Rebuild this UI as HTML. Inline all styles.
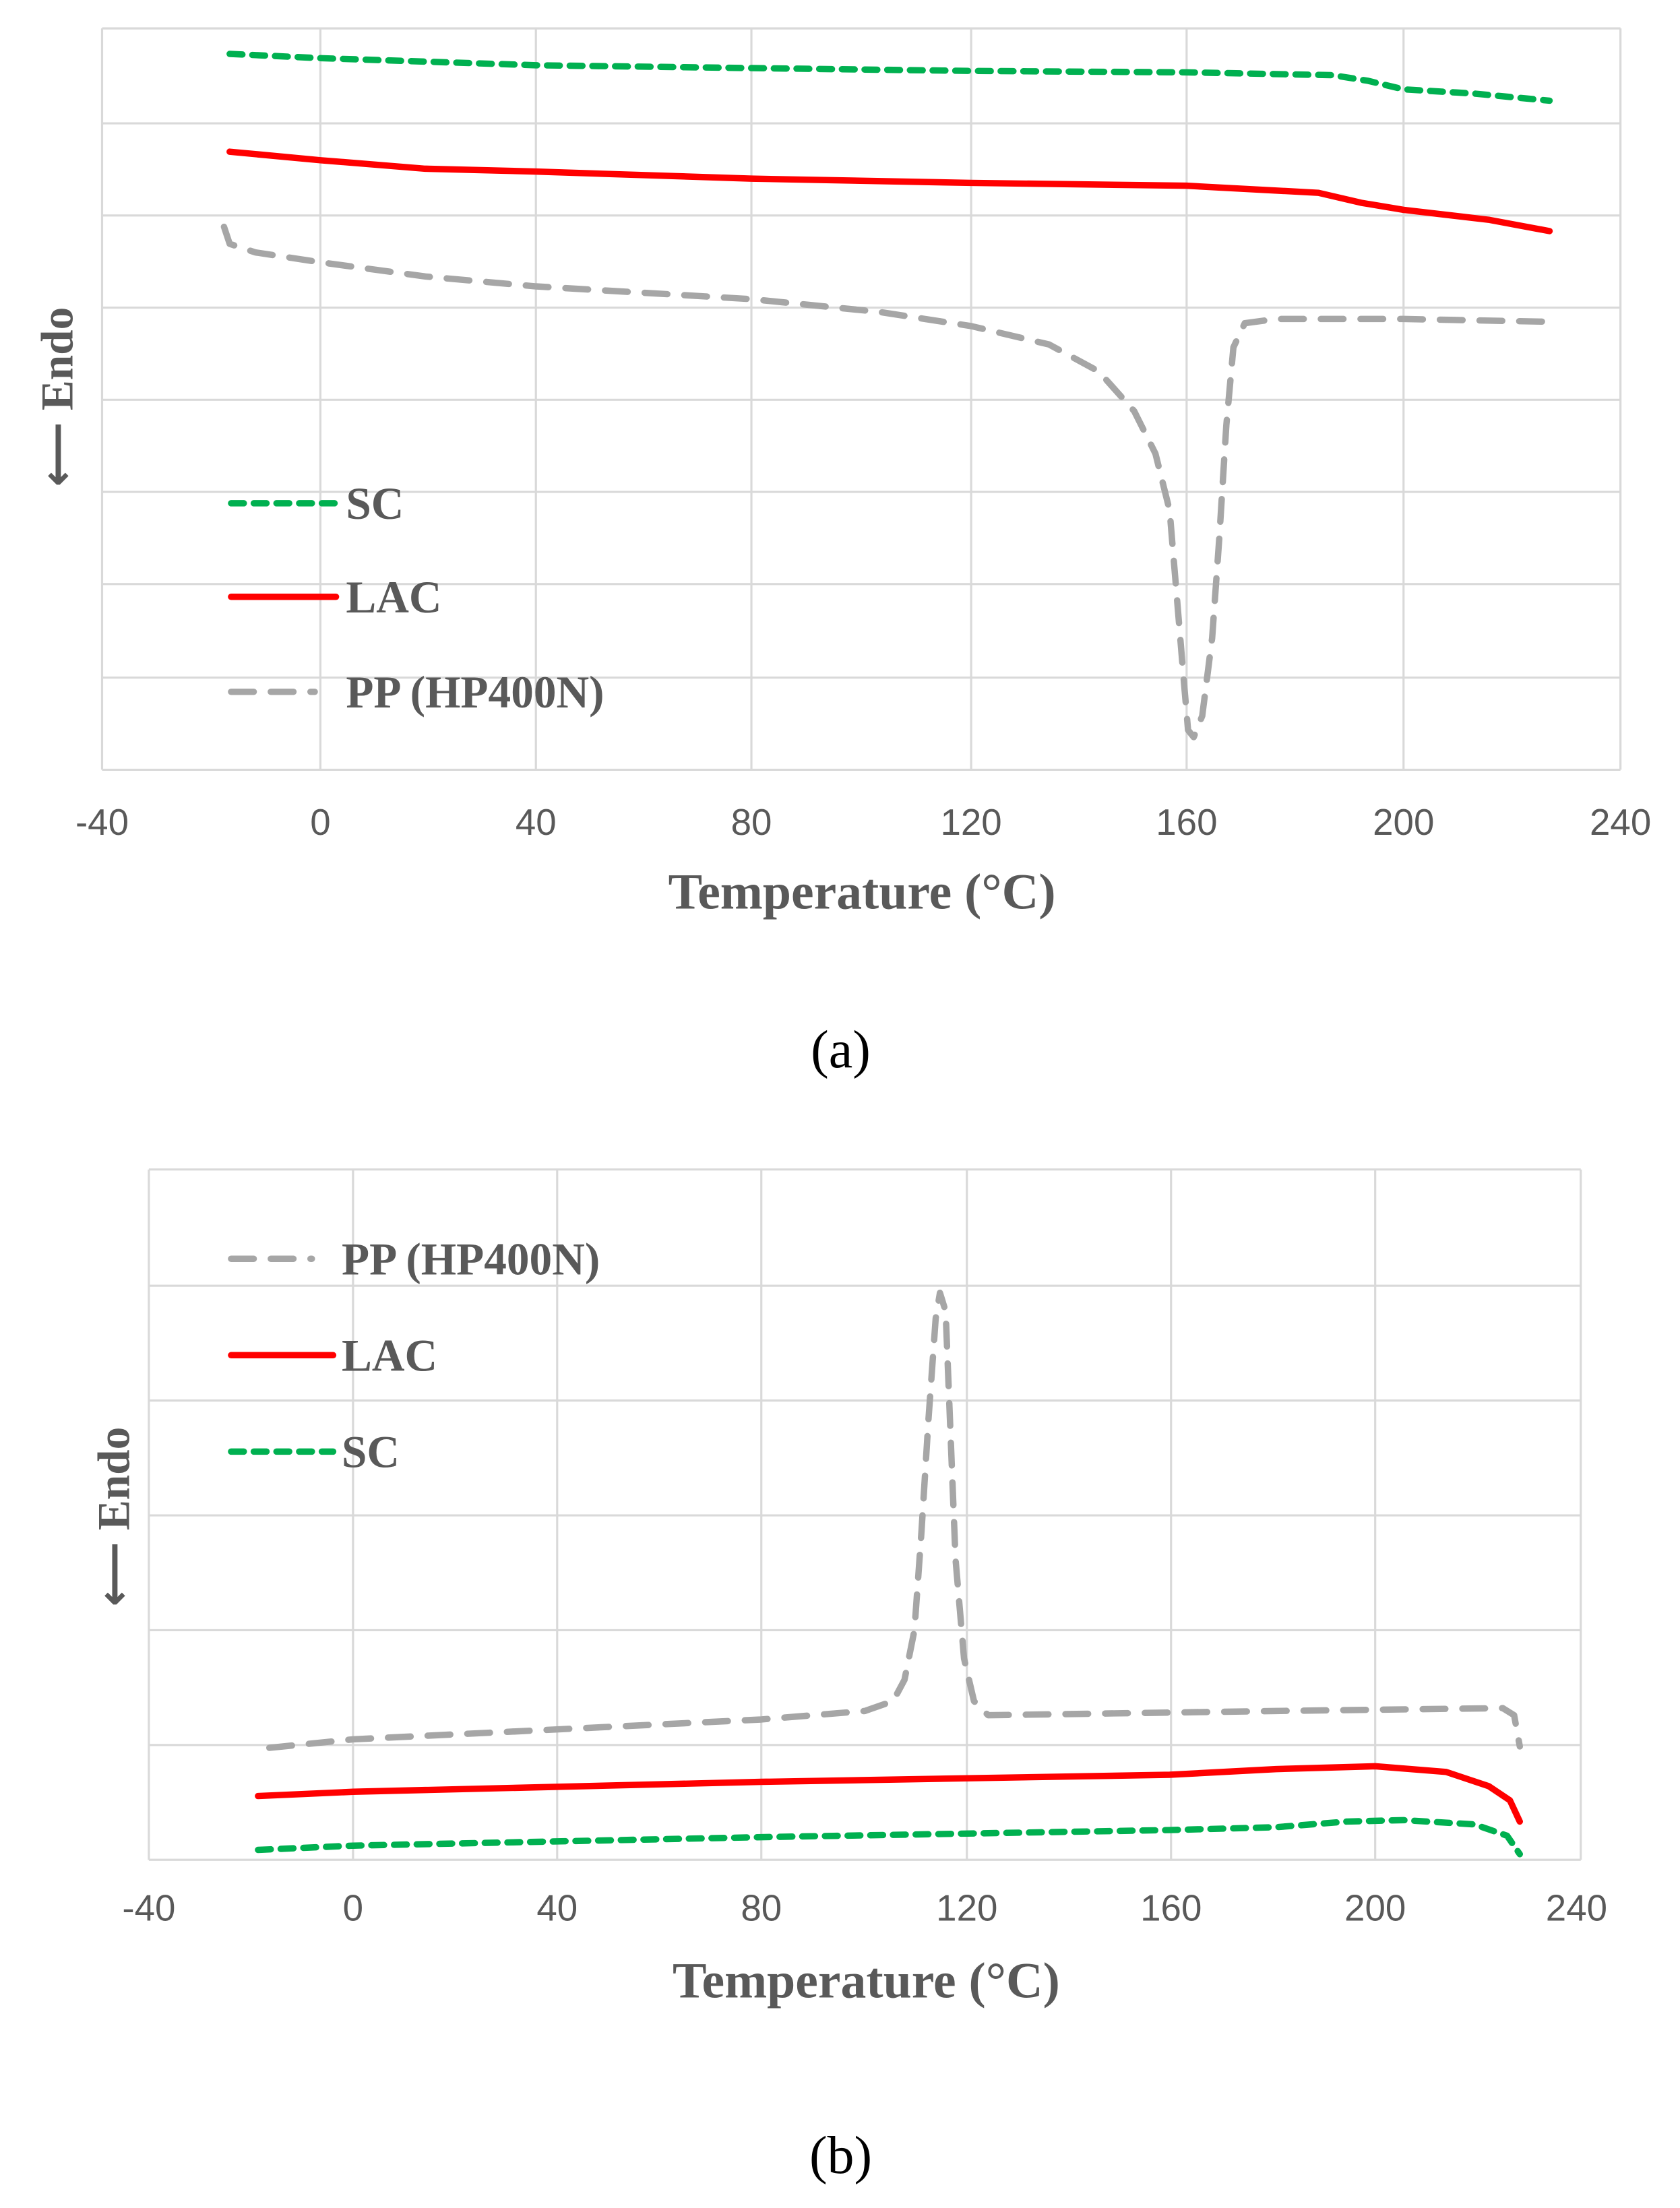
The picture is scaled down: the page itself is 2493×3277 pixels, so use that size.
<!DOCTYPE html>
<html><head><meta charset="utf-8"><style>html,body{margin:0;padding:0;background:#fff}svg{display:block}</style></head>
<body>
<svg width="2493" height="3277" viewBox="0 0 1185 1557.6" xmlns="http://www.w3.org/2000/svg">
<rect width="1185" height="1557.6" fill="#fff"/>
<!-- Chart A -->
<g stroke="#d9d9d9" stroke-width="1.5" fill="none">
<path d="M72 20H1143M72 87H1143M72 152H1143M72 217H1143M72 282H1143M72 347H1143M72 412H1143M72 478H1143M72 543H1143"/>
<path d="M72 20V543M226 20V543M378 20V543M530 20V543M685 20V543M837 20V543M990 20V543M1143 20V543"/>
</g>
<g fill="none" stroke-linecap="round" stroke-linejoin="round">
<polyline stroke="#00b050" stroke-width="4.5" stroke-dasharray="9,7" points="162,38 226,41 378,46 530,48 685,50 837,51 940,53 965,57 990,63 1040,66 1093,71"/>
<polyline stroke="#ff0000" stroke-width="4.5" points="162,107 226,113 300,119 378,121 530,126 685,129 837,131 930,136 960,143 990,148 1050,155 1093,163"/>
<polyline stroke="#a6a6a6" stroke-width="4.5" stroke-dasharray="16,12" points="158,160 162,172 180,178 226,185 300,195 378,202 530,211 620,220 685,230 740,243 775,262 800,290 815,320 825,360 830,420 835,480 838,515 842,520 848,505 855,450 860,380 865,300 870,245 878,228 900,225 990,225 1095,227"/>
<line x1="163" y1="355" x2="237" y2="355" stroke="#00b050" stroke-width="4.5" stroke-dasharray="9,7"/>
<line x1="163" y1="421" x2="237" y2="421" stroke="#ff0000" stroke-width="4.5"/>
<line x1="163" y1="488" x2="222" y2="488" stroke="#a6a6a6" stroke-width="4.5" stroke-dasharray="16,12"/>
</g>
<g font-family="Liberation Serif, serif" font-weight="bold" fill="#595959" font-size="32">
<text x="244" y="366">SC</text>
<text x="244" y="432">LAC</text>
<text x="244" y="499">PP (HP400N)</text>
</g>
<g font-family="Liberation Sans, sans-serif" fill="#595959" font-size="26" text-anchor="middle">
<text x="72" y="589">-40</text><text x="226" y="589">0</text><text x="378" y="589">40</text><text x="530" y="589">80</text><text x="685" y="589">120</text><text x="837" y="589">160</text><text x="990" y="589">200</text><text x="1143" y="589">240</text>
</g>
<text x="608" y="641" font-family="Liberation Serif, serif" font-weight="bold" fill="#595959" font-size="36" text-anchor="middle">Temperature  (°C)</text>
<text transform="translate(51,280) rotate(-90)" font-family="Liberation Serif, DejaVu Sans, serif" font-weight="bold" fill="#595959" font-size="32" text-anchor="middle">⟵ Endo</text>
<text x="593" y="753" font-family="Liberation Serif, serif" fill="#000" font-size="38" text-anchor="middle">(a)</text>
<!-- Chart B -->
<g stroke="#d9d9d9" stroke-width="1.5" fill="none">
<path d="M105 825H1115M105 907H1115M105 988H1115M105 1069H1115M105 1150H1115M105 1231H1115M105 1312H1115"/>
<path d="M105 825V1312M249 825V1312M393 825V1312M537 825V1312M682 825V1312M826 825V1312M970 825V1312M1115 825V1312"/>
</g>
<g fill="none" stroke-linecap="round" stroke-linejoin="round">
<polyline stroke="#a6a6a6" stroke-width="4.5" stroke-dasharray="16,12" points="190,1233 249,1227 393,1220 537,1213 610,1207 630,1200 638,1185 645,1150 650,1080 655,1000 660,930 663,912 667,925 670,1000 674,1100 680,1170 687,1200 697,1210 900,1207 1060,1205 1068,1210 1072,1232"/>
<polyline stroke="#ff0000" stroke-width="4.5" points="182,1267 249,1264 537,1257 825,1252 900,1248 970,1246 1020,1250 1050,1260 1065,1270 1072,1285"/>
<polyline stroke="#00b050" stroke-width="4.5" stroke-dasharray="9,7" points="182,1305 249,1302 537,1296 825,1291 900,1289 950,1285 990,1284 1040,1287 1063,1295 1072,1308"/>
<line x1="163" y1="888" x2="220" y2="888" stroke="#a6a6a6" stroke-width="4.5" stroke-dasharray="16,12"/>
<line x1="163" y1="956" x2="235" y2="956" stroke="#ff0000" stroke-width="4.5"/>
<line x1="163" y1="1024" x2="235" y2="1024" stroke="#00b050" stroke-width="4.5" stroke-dasharray="9,7"/>
</g>
<g font-family="Liberation Serif, serif" font-weight="bold" fill="#595959" font-size="32">
<text x="241" y="899">PP (HP400N)</text>
<text x="241" y="967">LAC</text>
<text x="241" y="1035">SC</text>
</g>
<g font-family="Liberation Sans, sans-serif" fill="#595959" font-size="26" text-anchor="middle">
<text x="105" y="1355">-40</text><text x="249" y="1355">0</text><text x="393" y="1355">40</text><text x="537" y="1355">80</text><text x="682" y="1355">120</text><text x="826" y="1355">160</text><text x="970" y="1355">200</text><text x="1112" y="1355">240</text>
</g>
<text x="611" y="1409" font-family="Liberation Serif, serif" font-weight="bold" fill="#595959" font-size="36" text-anchor="middle">Temperature  (°C)</text>
<text transform="translate(91,1070) rotate(-90)" font-family="Liberation Serif, DejaVu Sans, serif" font-weight="bold" fill="#595959" font-size="32" text-anchor="middle">⟵ Endo</text>
<text x="593" y="1533" font-family="Liberation Serif, serif" fill="#000" font-size="38" text-anchor="middle">(b)</text>
</svg>
</body></html>
